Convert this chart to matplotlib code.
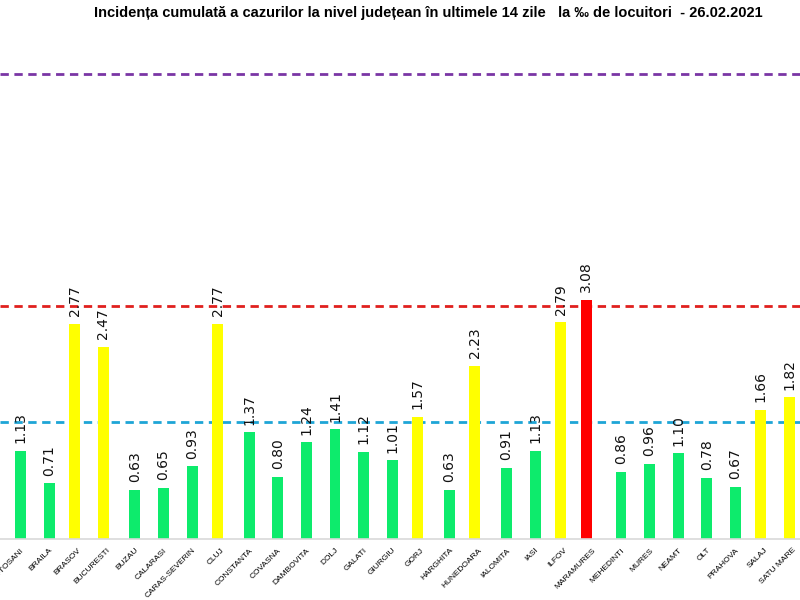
import numpy as np
import matplotlib.pyplot as plt

# =========================
# DATA
# =========================
counties = [
    "BOTOSANI", "BRAILA", "BRASOV", "BUCURESTI", "BUZAU", "CALARASI",
    "CARAS-SEVERIN", "CLUJ", "CONSTANTA", "COVASNA", "DAMBOVITA", "DOLJ",
    "GALATI", "GIURGIU", "GORJ", "HARGHITA", "HUNEDOARA", "IALOMITA",
    "IASI", "ILFOV", "MARAMURES", "MEHEDINTI", "MURES", "NEAMT", "OLT",
    "PRAHOVA", "SALAJ", "SATU MARE"
]

incidence = [
    1.13, 0.71, 2.77, 2.47, 0.63, 0.65,
    0.93, 2.77, 1.37, 0.80, 1.24, 1.41,
    1.12, 1.01, 1.57, 0.63, 2.23, 0.91,
    1.13, 2.79, 3.08, 0.86, 0.96, 1.10, 0.78,
    0.67, 1.66, 1.82
]

# scenario thresholds (per 1000 inhabitants)
thresholds = [1.5, 3.0, 6.0]
threshold_colors = ["#1ea5d6", "#e0201e", "#7a35a5"]

title = ("Incidența cumulată a cazurilor la nivel județean în ultimele 14 zile"
         "   la ‰ de locuitori  - 26.02.2021")

# =========================
# COLORS BY SCENARIO
# =========================
green = "#0deb6c"
yellow = "#ffff00"
red = "#ff0000"

colors = []
offsets = []
for v in incidence:
    if v > 3.0:
        colors.append(red)
        offsets.append(-0.22)
    elif v > 1.5:
        colors.append(yellow)
        offsets.append(-0.11)
    else:
        colors.append(green)
        offsets.append(0.0)

x = np.arange(len(counties))

# =========================
# PLOT
# =========================
fig = plt.figure(figsize=(8, 6), dpi=100)
ax = fig.add_axes([0, 0.1025, 1, 0.8975])

ax.bar(x + np.array(offsets), incidence, width=0.38, color=colors, zorder=2)

for t, c in zip(thresholds, threshold_colors):
    ax.axhline(t, color=c, lw=2, dashes=(3, 2), zorder=1)

for xi, off, v in zip(x, offsets, incidence):
    ax.annotate(
        f"{v:.2f}",
        (xi + off, v),
        xytext=(0, 5.5),
        textcoords="offset points",
        rotation=90,
        ha="center",
        va="bottom",
        fontsize=10,
        color="#111111",
    )

ax.set_xlim(-0.717, 27.26)
ax.set_ylim(0, 6.95)

ax.set_xticks(x)
ax.set_xticklabels(
    counties,
    rotation=45,
    ha="right",
    va="top",
    rotation_mode="anchor",
    fontsize=6,
    family=["Liberation Sans Narrow", "Liberation Sans", "DejaVu Sans"],
)
ax.tick_params(axis="x", length=0, pad=6)
ax.set_yticks([])

for side in ["top", "left", "right"]:
    ax.spines[side].set_visible(False)
ax.spines["bottom"].set_color("#d9d9d9")
ax.spines["bottom"].set_linewidth(1.2)

fig.text(
    0.536, 0.978, title,
    ha="center", va="center",
    fontsize=10.5, fontweight="bold",
    family=["Liberation Sans Narrow", "Liberation Sans", "DejaVu Sans"],
)

fig.savefig("out.png", dpi=100)
plt.close(fig)
